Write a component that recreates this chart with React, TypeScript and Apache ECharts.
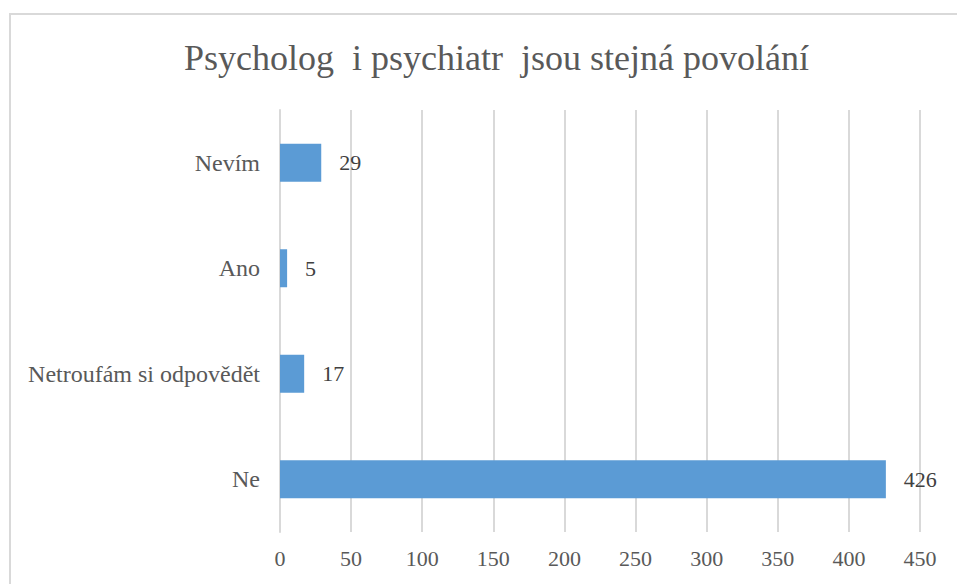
import React, { useEffect, useRef } from "react";
import * as echarts from "echarts";

const categories = ["Ne", "Netroufám si odpovědět", "Ano", "Nevím"];
const values = [426, 17, 5, 29];
const xTicks = { min: 0, max: 450, interval: 50 };
const titleText = "Psycholog  i psychiatr  jsou stejná povolání";

export default function App() {
  const ref = useRef<HTMLDivElement>(null);
  useEffect(() => {
    if (!ref.current) return;
    const chart = echarts.init(ref.current, null, { renderer: "svg" });
    const font = "Liberation Serif";
    chart.setOption({
      animation: false,
      backgroundColor: "#ffffff",
      title: {
        text: titleText,
        left: 179,
        top: 35,
        textStyle: { fontFamily: font, fontSize: 36, fontWeight: "normal", color: "#595959" },
      },
      graphic: [
        {
          type: "rect",
          shape: { x: 10, y: 14, width: 980, height: 620 },
          style: { fill: "none", stroke: "#d9d9d9", lineWidth: 2 },
          silent: true,
        },
      ],
      grid: { left: 280, right: 37, top: 110, bottom: 52, containLabel: false },
      xAxis: {
        type: "value",
        min: xTicks.min,
        max: xTicks.max,
        interval: xTicks.interval,
        axisLine: { show: false },
        axisTick: { show: false },
        splitLine: { show: true, lineStyle: { color: "#d9d9d9", width: 2 } },
        axisLabel: { fontFamily: font, fontSize: 22, color: "#595959", margin: 15 },
      },
      yAxis: {
        type: "category",
        data: categories,
        axisLine: { show: true, lineStyle: { color: "#d9d9d9", width: 2 } },
        axisTick: { show: false },
        axisLabel: { fontFamily: font, fontSize: 24, color: "#595959", margin: 20 },
      },
      series: [
        {
          type: "bar",
          data: values,
          barWidth: 38,
          itemStyle: { color: "#5b9bd5" },
          label: {
            show: true,
            position: "right",
            distance: 18,
            fontFamily: font,
            fontSize: 22,
            color: "#404040",
          },
        },
      ],
    });
    return () => chart.dispose();
  }, []);
  return (
    <div
      ref={ref}
      style={{ position: "fixed", left: 0, top: 0, width: 957, height: 584 }}
    />
  );
}
